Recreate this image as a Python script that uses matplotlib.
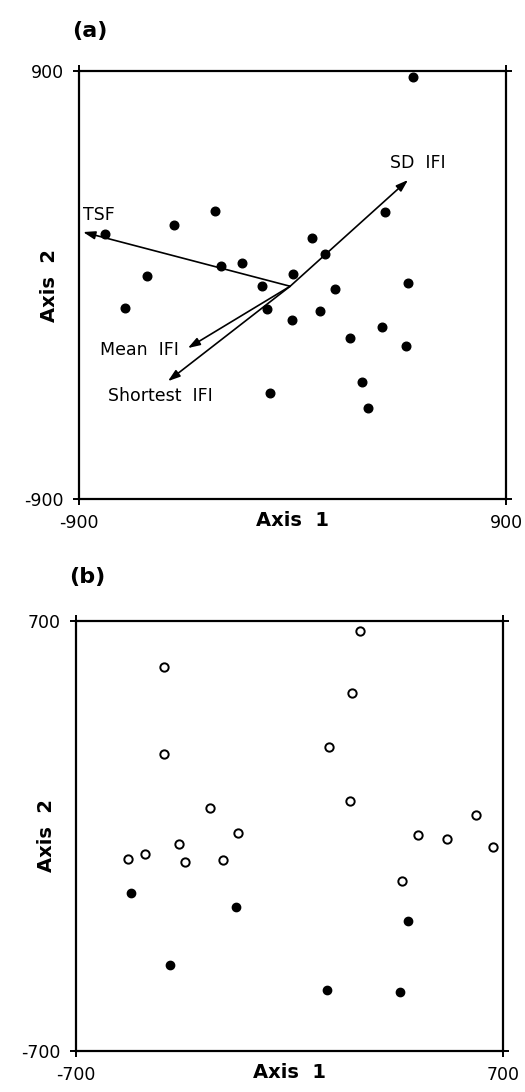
import matplotlib
matplotlib.use("Agg")
import matplotlib.pyplot as plt

plt.rcParams['font.family'] = ['DejaVu Sans']

# panel (a): ordination scores (all filled)
a_x = [508, -790, -500, -327, -613, -301, -213, -129, 2, 82, 137, 179,
       -706, -108, -2, 116, 487, 242, 377, 478, -95, 293, 318, 390]
a_y = [875, 214, 252, 311, 38, 80, 92, -4, 46, 198, 130, -17,
       -97, -101, -147, -109, 8, -223, -177, -257, -454, -408, -517, 307]

# panel (a): variable vectors from the origin
vec_names = ["TSF", "SD  IFI", "Mean  IFI", "Shortest  IFI"]
vec_x = [-883, 487, -441, -525]
vec_y = [223, 442, -265, -404]
vec_origin = (-10, -5)
vec_label_x = [-883, 411, -812, -778]
vec_label_y = [294, 513, -274, -467]

# panel (b): open circles
b_open_x = [231, -410, 206, -410, 129, 198, -260, -170, -361, -474, -529,
            -343, -218, 422, 515, 611, 666, 369]
b_open_y = [667, 551, 467, 268, 289, 115, 92, 10, -27, -59, -74,
            -84, -77, 3, -10, 68, -35, -148]
# panel (b): filled circles
b_fill_x = [-519, -175, 390, -393, 124, 362]
b_fill_y = [-185, -231, -277, -419, -502, -509]

a_ticks = [-900, 900]
a_ticklabels = ["-900", "900"]
b_ticks = [-700, 700]
b_ticklabels = ["-700", "700"]


def style_axes(ax, ticks, ticklabels, panel, panel_y):
    ax.set_xlim(ticks[0], ticks[1])
    ax.set_ylim(ticks[0], ticks[1])
    ax.set_xticks(ticks)
    ax.set_xticklabels(ticklabels)
    ax.set_yticks(ticks)
    ax.set_yticklabels(ticklabels)
    ax.tick_params(direction="out", length=4, width=1.4, pad=7,
                   labelsize=12.5, top=True, right=True)
    for sp in ax.spines.values():
        sp.set_linewidth(1.6)
    ax.set_xlabel("Axis  1", fontsize=14, fontweight="bold")
    ax.xaxis.set_label_coords(0.5, -0.05)
    ax.xaxis.label.set_va("center")
    ax.set_ylabel("Axis  2", fontsize=14, fontweight="bold")
    ax.yaxis.set_label_coords(-0.068, 0.5)
    ax.yaxis.label.set_va("center")
    ax.text(-0.015, panel_y, panel, transform=ax.transAxes, fontsize=16,
            fontweight="bold", ha="left", va="center")


fig = plt.figure(figsize=(5.25, 10.92), dpi=100)

ax1 = fig.add_axes([0.1505, 0.5430, 0.8133, 0.3919])
style_axes(ax1, a_ticks, a_ticklabels, "(a)", 1.093)
ax1.plot(a_x, a_y, "o", color="black", markersize=6.2, clip_on=False)
for name, vx, vy, lx, ly in zip(vec_names, vec_x, vec_y, vec_label_x, vec_label_y):
    ax1.annotate("", xy=(vx, vy), xytext=vec_origin,
                 arrowprops=dict(arrowstyle="-|>,head_length=0.6,head_width=0.2",
                                 color="black", lw=1.2, shrinkA=0, shrinkB=0,
                                 mutation_scale=12))
    ax1.text(lx, ly, name, fontsize=12.5, ha="left", va="center")

ax2 = fig.add_axes([0.1448, 0.03755, 0.8133, 0.3938])
style_axes(ax2, b_ticks, b_ticklabels, "(b)", 1.102)
ax2.plot(b_open_x, b_open_y, "o", markerfacecolor="white", markeredgecolor="black",
         markeredgewidth=1.4, markersize=6, linestyle="none")
ax2.plot(b_fill_x, b_fill_y, "o", color="black", markersize=6, linestyle="none")

fig.savefig("out.png", dpi=100)
